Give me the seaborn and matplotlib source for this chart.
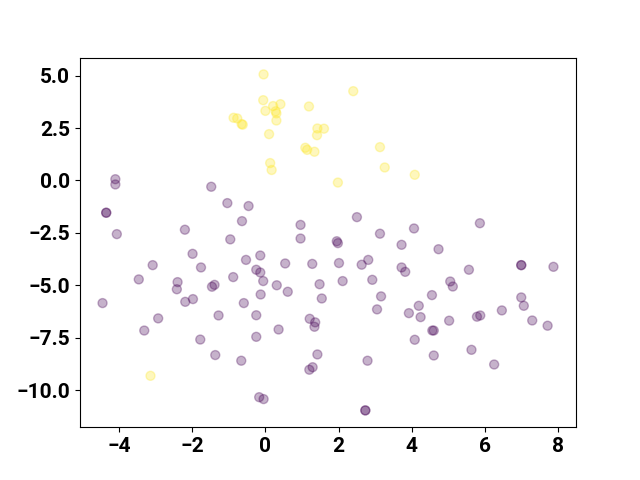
import numpy as np
import pandas as pd
import matplotlib
matplotlib.use('Agg')
import matplotlib.pyplot as plt
from matplotlib.ticker import MultipleLocator
import seaborn as sns

# class 1 (yellow) points
x_pos = [-0.05, 2.40, -0.06, 0.21, 0.41, 1.19, 0.00, 0.28, 0.30, 0.30,
         -0.87, -0.77, -0.65, -0.62, 1.42, 1.60, 1.41, 0.10, 1.09, 1.14,
         1.34, 3.13, 0.13, 0.17, 3.26, 4.08, 1.98, -3.14]
y_pos = [5.06, 4.26, 3.83, 3.55, 3.64, 3.53, 3.32, 3.30, 3.20, 2.86,
         2.99, 2.96, 2.69, 2.66, 2.48, 2.47, 2.16, 2.21, 1.56, 1.46,
         1.37, 1.59, 0.83, 0.50, 0.62, 0.27, -0.10, -9.32]

# class 0 (purple) points
x_neg = [-4.10, -4.10, -1.48, -1.04, -0.46, -4.35, -4.35, -0.64, -4.06, -2.20,
         -0.96, -1.99, -0.53, -3.08, -1.76, -3.46, -0.88, -2.40, -2.42, -1.46,
         -1.39, -4.45, -2.19, -1.98, -0.59, -2.93, -3.31, -1.28, -1.78, -1.37,
         -0.66, 0.96, 0.96, 2.50, 3.13, 1.95, 1.98, 3.72, -0.14,
         0.54, 1.28, 2.01, 2.63, 2.81, 3.72, 3.82, -0.25, -0.14, -0.06,
         0.31, 0.61, 1.48, 2.11, 2.92, -0.13, 1.54, 3.16, 3.05, 4.06,
         5.86, 4.73, 5.56, 6.99, 6.99, 7.87, 5.05, 5.12, 4.55, 6.99,
         7.06, 4.19, 6.46, -0.25, -0.25, 0.36, 1.21, 1.36, 1.34,
         1.42, 1.29, 1.20, 2.79, -0.17, -0.05, 2.73, 2.73, 3.92, 4.24,
         4.56, 4.60, 5.02, 5.78, 5.87, 7.29, 7.71, 4.08, 4.60, 5.63,
         6.25]
y_neg = [0.06, -0.19, -0.30, -1.08, -1.22, -1.54, -1.54, -1.94, -2.56, -2.35,
         -2.81, -3.50, -3.79, -4.04, -4.15, -4.72, -4.61, -4.85, -5.19, -5.07,
         -4.98, -5.85, -5.79, -5.66, -5.85, -6.58, -7.16, -6.44, -7.59, -8.33,
         -8.60, -2.12, -2.77, -1.75, -2.54, -2.90, -2.99, -3.07, -3.58,
         -3.96, -3.98, -3.94, -4.02, -3.79, -4.15, -4.36, -4.26, -4.39, -4.80,
         -5.00, -5.31, -4.95, -4.80, -4.74, -5.44, -5.63, -5.53, -6.15, -2.29,
         -2.04, -3.28, -4.26, -4.04, -4.04, -4.12, -4.82, -5.06, -5.47, -5.58,
         -5.98, -5.98, -6.20, -6.43, -7.46, -7.11, -6.60, -6.77, -6.98,
         -8.30, -8.91, -9.03, -8.60, -10.34, -10.43, -10.97, -10.97, -6.33, -6.52,
         -7.16, -7.16, -6.69, -6.50, -6.44, -6.68, -6.93, -7.60, -8.35, -8.08,
         -8.78]

df = pd.DataFrame({
    'x': x_neg + x_pos,
    'y': y_neg + y_pos,
    'label': [0] * len(x_neg) + [1] * len(x_pos),
})

plt.rcParams['font.family'] = ['Roboto', 'DejaVu Sans']
fig, ax = plt.subplots(figsize=(6.4, 4.8), dpi=100)
sns.scatterplot(data=df, x='x', y='y', hue='label',
                palette=['#440154', '#fde725'],
                alpha=0.3, s=42, edgecolor='face', linewidth=1,
                legend=False, ax=ax)
ax.set_xlabel('')
ax.set_ylabel('')
ax.yaxis.set_major_locator(MultipleLocator(2.5))
for lbl in ax.get_xticklabels() + ax.get_yticklabels():
    lbl.set_fontsize(15)
    lbl.set_fontweight('bold')

fig.savefig('out.png', dpi=100)
